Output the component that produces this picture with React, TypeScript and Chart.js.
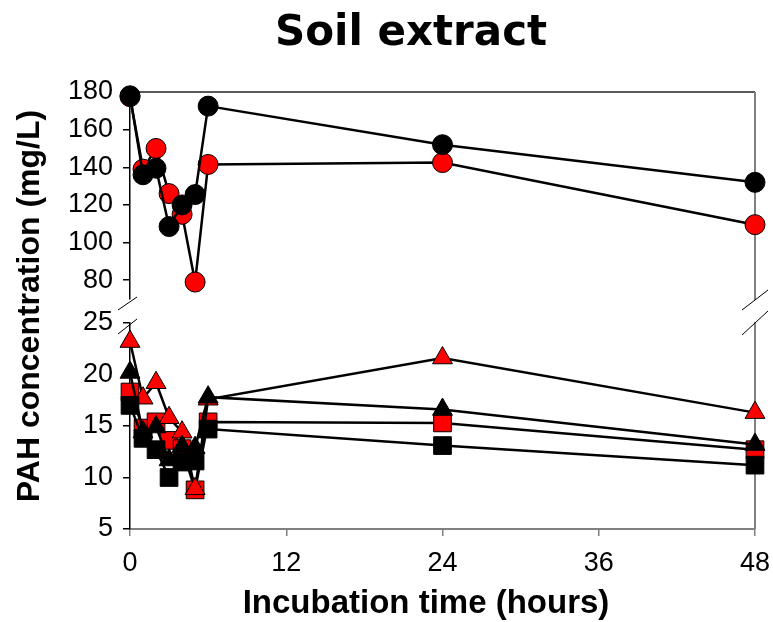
import { useEffect, useRef } from "react";
import { Chart, registerables } from "chart.js";

Chart.register(...registerables);

const hours = [0, 1, 2, 3, 4, 5, 6, 24, 48];
const blackCircles = [178, 136, 139.5, 108.5, 120, 125.5, 172.5, 152, 132];
const redCircles = [177.5, 139, 150, 126, 115, 79, 141.5, 142.5, 109.5];
const redTriangles = [23.2, 17.7, 19.2, 15.8, 14.4, 8.9, 17.6, 21.6, 16.3];
const blackTriangles = [20.2, 14.4, 14.9, 11.7, 13.0, 12.9, 17.8, 16.6, 13.2];
const redSquares = [18.3, 14.8, 15.4, 13.6, 12.8, 8.8, 15.4, 15.3, 12.7];
const blackSquares = [17.0, 13.8, 12.7, 10.0, 11.5, 11.6, 14.7, 13.1, 11.2];

const xTicks = [0, 12, 24, 36, 48];
const topTicks = [80, 100, 120, 140, 160, 180];
const bottomTicks = [5, 10, 15, 20, 25];

const chartTitle = "Soil extract";
const yTitle = "PAH concentration (mg/L)";
const xTitle = "Incubation time (hours)";

const FONT = "'Liberation Sans', Arial, sans-serif";

export default function App() {
  const ref = useRef<HTMLCanvasElement | null>(null);

  useEffect(() => {
    if (!ref.current) return;

    const mk = (
      label: string,
      values: number[],
      axis: string,
      style: string,
      fill: string,
      radius: number
    ) => ({
      label,
      data: hours.map((h, i) => ({ x: h, y: values[i] })),
      yAxisID: axis,
      pointStyle: style,
      pointRadius: radius,
      pointBackgroundColor: fill,
      pointBorderColor: "#000",
      pointBorderWidth: 1,
      borderColor: "#000",
      borderWidth: 2.5,
      showLine: true,
      fill: false,
      tension: 0,
      clip: false,
    });

    const decor = {
      id: "decor",
      afterDraw(chart: any) {
        const ctx = chart.ctx as CanvasRenderingContext2D;
        ctx.save();
        ctx.fillStyle = "#000";
        ctx.textAlign = "center";
        ctx.textBaseline = "middle";
        ctx.font = "bold 42px 'DejaVu Sans', sans-serif";
        ctx.fillText(chartTitle, 411, 34);
        ctx.font = `bold 33px ${FONT}`;
        ctx.fillText(xTitle, 426, 604);
        ctx.save();
        ctx.translate(30, 306);
        ctx.rotate(-Math.PI / 2);
        ctx.font = `bold 32px ${FONT}`;
        ctx.fillText(yTitle, 0, 0);
        ctx.restore();
        ctx.restore();
      },
      beforeDatasetsDraw(chart: any) {
        const ctx = chart.ctx as CanvasRenderingContext2D;
        const a = chart.chartArea;
        const yTop = chart.scales.yTop;
        const yBottom = chart.scales.yBottom;
        ctx.save();
        ctx.strokeStyle = "#222";
        ctx.lineWidth = 1.5;
        ctx.beginPath();
        ctx.moveTo(a.left, a.top);
        ctx.lineTo(a.right, a.top);
        ctx.stroke();
        ctx.strokeStyle = "#808080";
        ctx.lineWidth = 2;
        ctx.beginPath();
        ctx.moveTo(a.right, a.top);
        ctx.lineTo(a.right, yTop.bottom + 1);
        ctx.moveTo(a.right, yBottom.top - 1);
        ctx.lineTo(a.right, a.bottom);
        ctx.stroke();
        ctx.strokeStyle = "#000";
        ctx.lineWidth = 1;
        const slash = (x: number, y: number, dxl: number, dyl: number, dxr: number, dyr: number) => {
          ctx.beginPath();
          ctx.moveTo(x - dxl, y + dyl);
          ctx.lineTo(x + dxr, y - dyr);
          ctx.stroke();
        };
        slash(a.left, yTop.bottom + 3, 12, 8, 7, 5);
        slash(a.left, yBottom.top + 2, 12, 9, 7, 6);
        slash(a.right, yTop.bottom + 1, 13, 10, 13, 10);
        slash(a.right, yBottom.top, 13, 12, 13, 12);
        ctx.restore();
      },
    };

    const yCommon = (ticks: number[]) => ({
      type: "linear" as const,
      position: "left" as const,
      stack: "y",
      offset: false,
      grid: { drawOnChartArea: false, drawTicks: true, tickLength: 7, color: "#000", lineWidth: 1.5 },
      border: { display: true, color: "#000", width: 1.5 },
      ticks: {
        color: "#000",
        font: { family: FONT, size: 27 },
        padding: 10,
        includeBounds: false,
        autoSkip: false,
      },
      afterBuildTicks: (s: any) => {
        s.ticks = ticks.map((v) => ({ value: v }));
      },
      afterFit: (s: any) => {
        s.width = 130;
        s.paddingTop = 0;
        s.paddingBottom = 0;
      },
    });

    const chart = new Chart(ref.current, {
      type: "scatter",
      data: {
        datasets: [
          mk("black circles", blackCircles, "yTop", "circle", "#000", 10),
          mk("red circles", redCircles, "yTop", "circle", "#ff0000", 10),
          mk("black triangles", blackTriangles, "yBottom", "triangle", "#000", 11.5),
          mk("black squares", blackSquares, "yBottom", "rect", "#000", 12.5),
          mk("red triangles", redTriangles, "yBottom", "triangle", "#ff0000", 11.5),
          mk("red squares", redSquares, "yBottom", "rect", "#ff0000", 12.5),
        ] as any,
      },
      options: {
        animation: false,
        responsive: false,
        maintainAspectRatio: false,
        layout: { padding: { top: 92, right: 18, left: 0, bottom: 0 } },
        plugins: {
          legend: { display: false },
          tooltip: { enabled: false },
          title: { display: false },
        },
        scales: {
          x: {
            type: "linear",
            min: 0,
            max: 48,
            grid: { drawOnChartArea: false, drawTicks: true, tickLength: 7, color: "#808080", lineWidth: 1.5 },
            border: { display: true, color: "#808080", width: 2 },
            ticks: { color: "#000", font: { family: FONT, size: 27 }, padding: 11, autoSkip: false, maxRotation: 0 },
            afterBuildTicks: (s: any) => {
              s.ticks = xTicks.map((v) => ({ value: v }));
            },
            afterFit: (s: any) => {
              s.height = 93;
              s.paddingLeft = 0;
              s.paddingRight = 0;
            },
          },
          yBottom: { ...yCommon(bottomTicks), min: 5, max: 25, stackWeight: 206 },
          yGap: {
            type: "linear",
            position: "left",
            stack: "y",
            stackWeight: 24,
            min: 0,
            max: 1,
            offset: false,
            grid: { display: false },
            border: { display: false },
            ticks: { display: false },
            afterFit: (s: any) => {
              s.width = 130;
              s.paddingTop = 0;
              s.paddingBottom = 0;
            },
          },
          yTop: { ...yCommon(topTicks), min: 70, max: 180, stackWeight: 207 },
        } as any,
      },
      plugins: [decor],
    });
    return () => chart.destroy();
  }, []);

  return (
    <div style={{ position: "fixed", left: 0, top: 0, width: 773, height: 622 }}>
      <canvas ref={ref} width={773} height={622} style={{ display: "block", width: 773, height: 622 }} />
    </div>
  );
}
